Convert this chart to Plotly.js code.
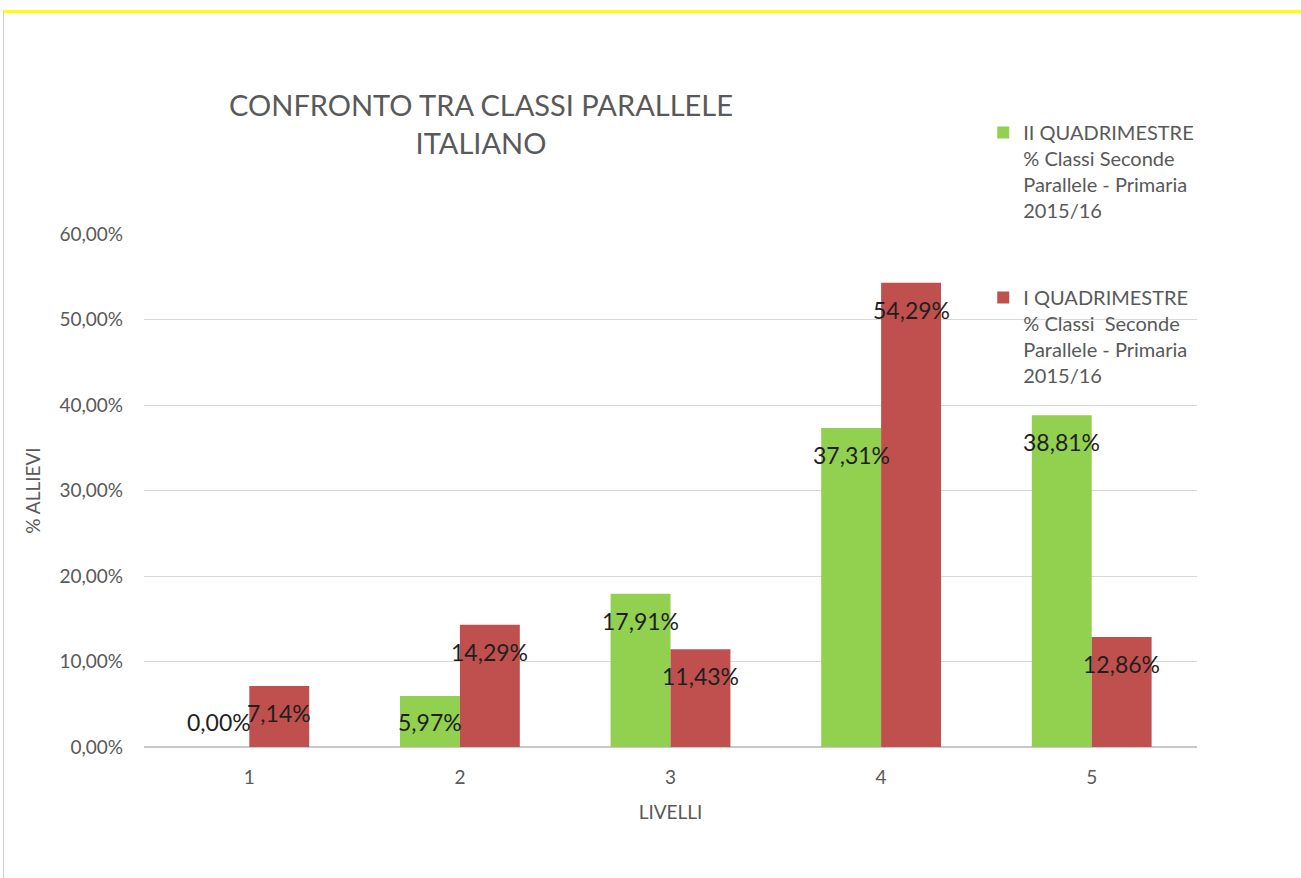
<!DOCTYPE html>
<html>
<head>
<meta charset="utf-8">
<script src="https://cdn.plot.ly/plotly-3.0.1.min.js"></script>
<style>
  html, body { margin: 0; padding: 0; background: #ffffff; }
  #frame { position: absolute; left: 3px; top: 10px; width: 1298px; height: 868px;
           border-top: 3px solid #ffff00; border-left: 1px solid #d0d0d0; }
  #chart { width: 1298px; height: 865px; }
</style>
</head>
<body>
<div id="frame"><div id="chart"></div></div>
<script>
// ---- data ----
const categories = ['1', '2', '3', '4', '5'];
const seriesIIName = 'II QUADRIMESTRE<br>% Classi Seconde<br>Parallele - Primaria<br>2015/16';
const seriesIName = 'I QUADRIMESTRE<br>% Classi  Seconde<br>Parallele - Primaria<br>2015/16';
const seriesII = [0.00, 5.97, 17.91, 37.31, 38.81];
const seriesI = [7.14, 14.29, 11.43, 54.29, 12.86];
const yTicks = [0, 10, 20, 30, 40, 50, 60];

const GREEN = '#92D050';
const RED = '#C0504D';
const fmt = v => v.toFixed(2).replace('.', ',') + '%';

const traces = [
  { type: 'bar', name: seriesIIName, x: categories, y: seriesII,
    marker: { color: GREEN }, legendgroup: 'g1', hoverinfo: 'none' },
  { type: 'bar', name: seriesIName, x: categories, y: seriesI,
    marker: { color: RED }, legendgroup: 'g2', hoverinfo: 'none' }
];

// data labels, "inside end" style (kept inside the plot for very short bars)
const LABEL_MIN = 6.1;
const annotations = [];
[[seriesII, -30], [seriesI, 30]].forEach(([vals, dx]) => {
  vals.forEach((v, i) => {
    annotations.push({
      x: i, y: Math.max(v, LABEL_MIN), xref: 'x', yref: 'y',
      text: fmt(v), showarrow: false, xshift: dx, yshift: -27,
      xanchor: 'center', yanchor: 'middle',
      font: { family: 'Lato, sans-serif', size: 23, color: '#1f1f1f' }
    });
  });
});

const layout = {
  width: 1298, height: 865,
  margin: { l: 139.5, r: 104.5, t: 221, b: 131 },
  paper_bgcolor: '#ffffff', plot_bgcolor: '#ffffff',
  font: { family: 'Lato, sans-serif', color: '#595959', size: 19 },
  title: {
    text: 'CONFRONTO TRA CLASSI PARALLELE<br>ITALIANO',
    x: 0.3675, xanchor: 'center', xref: 'container',
    y: 0.881, yanchor: 'middle', yref: 'container',
    font: { family: 'Lato, sans-serif', size: 29, color: '#595959' }
  },
  barmode: 'group', bargap: 0.431, bargroupgap: 0,
  xaxis: {
    type: 'category', range: [-0.5, 4.5], showgrid: false, showline: false,
    ticks: '', ticklabelstandoff: 17, tickfont: { size: 19, color: '#595959' },
    title: { text: 'LIVELLI', standoff: 18, font: { size: 19, color: '#595959' } }
  },
  yaxis: {
    range: [0, 60], tickmode: 'array', tickvals: yTicks, ticktext: yTicks.map(fmt),
    showgrid: true, gridcolor: '#d9d9d9', gridwidth: 1,
    zeroline: true, zerolinecolor: '#c8c8c8', zerolinewidth: 1.5,
    showline: false, ticks: '', ticklabelstandoff: 20,
    tickfont: { size: 19, color: '#595959' },
    title: { text: '% ALLIEVI', standoff: 13, font: { size: 19, color: '#595959' } }
  },
  showlegend: true,
  legend: {
    x: 0.797, xanchor: 'left', y: 1.236, yanchor: 'top',
    traceorder: 'grouped', tracegroupgap: 58, valign: 'top',
    font: { family: 'Lato, sans-serif', size: 20, color: '#595959' },
    bgcolor: 'rgba(0,0,0,0)', itemwidth: 30
  },
  annotations: annotations
};

Plotly.newPlot('chart', traces, layout, { displayModeBar: false, staticPlot: true });
</script>
</body>
</html>
